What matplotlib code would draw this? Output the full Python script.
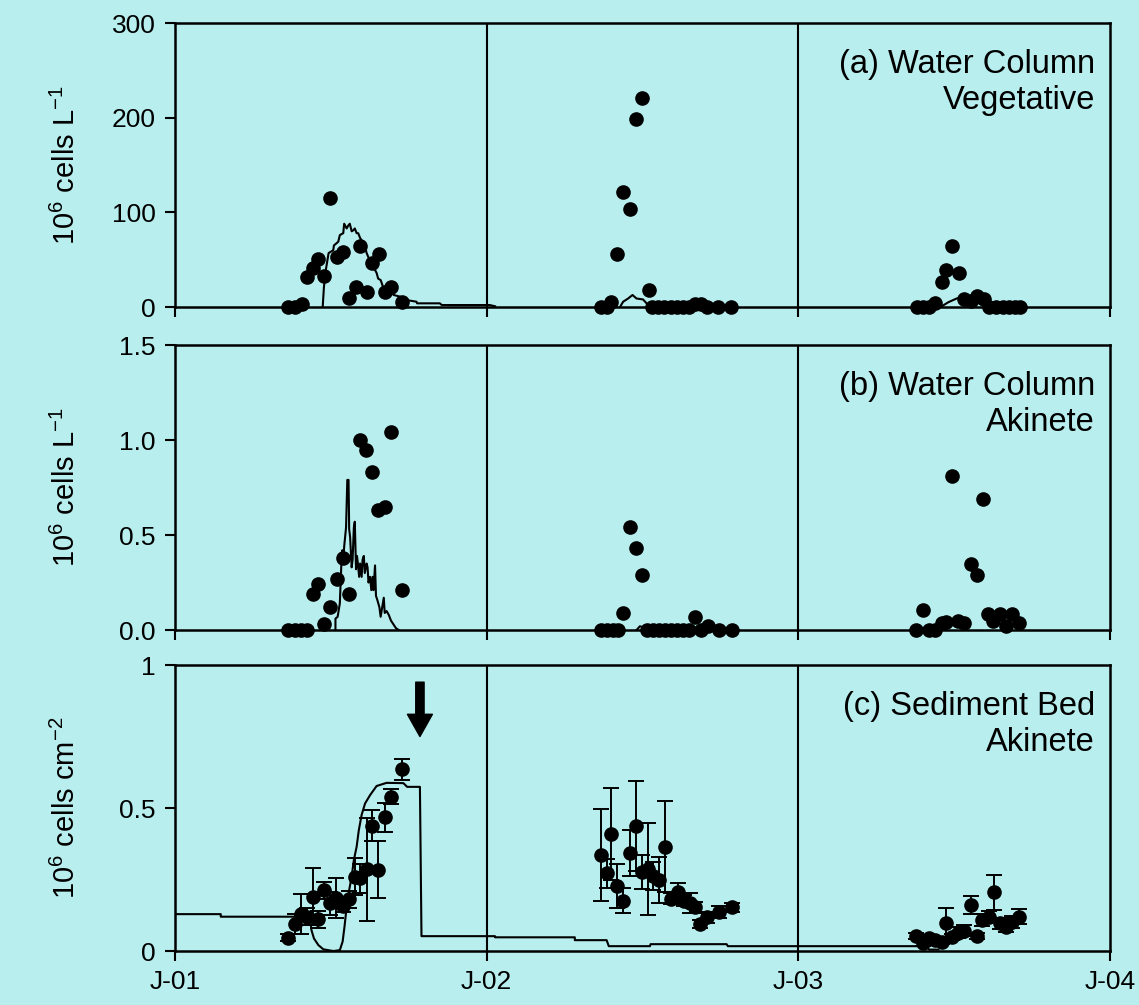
import numpy as np
import matplotlib
matplotlib.use("Agg")
import matplotlib.pyplot as plt

plt.rcParams["font.family"] = ["Liberation Sans", "DejaVu Sans"]
plt.rcParams["mathtext.fontset"] = "custom"
plt.rcParams["mathtext.rm"] = "Liberation Sans"
plt.rcParams["mathtext.it"] = "Liberation Sans:italic"

bg = "#b8eeee"

# x axis in years since Jan 2001 (0 = J-01, 3 = J-04)
xtick_pos = [0, 1, 2, 3]
xtick_lab = ["J-01", "J-02", "J-03", "J-04"]

#### (a) water column vegetative, 10^6 cells/L ####
a_obs_t = [0.363, 0.385, 0.407, 0.423, 0.443, 0.459, 0.478, 0.497, 0.520, 0.539,
           0.558, 0.581, 0.594, 0.616, 0.632, 0.654, 0.674, 0.693, 0.728,
           1.367, 1.386, 1.399, 1.418, 1.437, 1.460, 1.479, 1.498, 1.521,
           1.530, 1.550, 1.570, 1.590, 1.610, 1.630, 1.649, 1.668, 1.688, 1.707, 1.743, 1.785,
           2.380, 2.400, 2.420, 2.440, 2.460, 2.475, 2.493, 2.516, 2.531, 2.554,
           2.573, 2.595, 2.612, 2.634, 2.656, 2.676, 2.696, 2.712]
a_obs_v = [0, 0, 3, 32, 41, 51, 33, 115, 53, 58,
           10, 21, 64, 16, 47, 56, 16, 21, 5,
           0, 0, 5, 56, 121, 104, 199, 221, 18,
           0, 0, 0, 0, 0, 0, 0, 3, 3, 0, 0, 0,
           0, 0, 0, 4, 26, 39, 64, 36, 8, 6,
           12, 8, 0, 0, 0, 0, 0, 0]
a_mod_t = [0.0, 0.474, 0.478, 0.484, 0.493, 0.508, 0.510, 0.524, 0.529, 0.540, 0.543,
           0.551, 0.556, 0.561, 0.567, 0.572, 0.577, 0.583, 0.588, 0.594, 0.602,
           0.610, 0.615, 0.624, 0.631, 0.639, 0.647, 0.652, 0.660, 0.668, 0.684,
           0.702, 0.722, 0.743, 0.775, 0.777, 0.850, 0.856, 1.010, 1.027,
           1.428, 1.438, 1.454, 1.468, 1.481, 1.502, 1.513, 1.518,
           2.460, 2.481, 2.508, 2.529, 2.556, 2.578, 2.599]
a_mod_v = [np.nan, 0, 21, 39, 57, 60, 65, 69, 76, 78, 88,
           83, 86, 88, 80, 81, 83, 78, 78, 73, 69,
           64, 57, 50, 48, 41, 36, 30, 28.5, 21, 18,
           12.7, 11, 7.4, 5.6, 3.9, 3.9, 2.1, 2.1, 0.8,
           0, 5.6, 9, 12.7, 9, 8, 4, 0,
           0.7, 5, 9, 11, 9, 4, 0.7]
a_breaks = [39, 47]  # segments end after these indices

#### (b) water column akinete, 10^6 cells/L ####
b_obs_t = [0.363, 0.385, 0.404, 0.423, 0.443, 0.459, 0.478, 0.497, 0.520, 0.539,
           0.558, 0.594, 0.613, 0.632, 0.651, 0.674, 0.693, 0.728,
           1.366, 1.385, 1.404, 1.422, 1.438, 1.460, 1.479, 1.499,
           1.513, 1.533, 1.552, 1.572, 1.591, 1.610, 1.630, 1.649, 1.668, 1.688, 1.709, 1.745, 1.787,
           2.379, 2.399, 2.418, 2.439, 2.460, 2.474, 2.494, 2.514, 2.532, 2.554,
           2.574, 2.594, 2.609, 2.625, 2.647, 2.668, 2.687, 2.708]
b_obs_v = [0, 0, 0, 0, 0.19, 0.24, 0.03, 0.12, 0.27, 0.38,
           0.19, 1.00, 0.95, 0.83, 0.63, 0.65, 1.04, 0.21,
           0, 0, 0, 0, 0.09, 0.54, 0.43, 0.29,
           0, 0, 0, 0, 0, 0, 0, 0, 0.07, 0, 0.02, 0, 0,
           0.0, 0.105, 0, 0, 0.035, 0.04, 0.81, 0.05, 0.035, 0.35,
           0.29, 0.69, 0.084, 0.05, 0.084, 0.02, 0.084, 0.035]
b_mod_t = [0.515, 0.515, 0.522, 0.529, 0.534, 0.537, 0.540, 0.543, 0.549, 0.553, 0.557,
           0.559, 0.562, 0.567, 0.570, 0.574, 0.577, 0.581, 0.584, 0.587, 0.591,
           0.594, 0.599, 0.602, 0.606, 0.609, 0.615, 0.618, 0.621, 0.626, 0.630,
           0.634, 0.637, 0.642, 0.645, 0.649, 0.656, 0.660, 0.664, 0.670, 0.673,
           0.679, 0.686, 0.693, 0.701, 0.709, 0.718,
           1.481, 1.492, 1.508, 1.663, 1.673]
b_mod_v = [0, 0.06, 0.07, 0.14, 0.35, 0.42, 0.35, 0.44, 0.54, 0.79, 0.79,
           0.53, 0.49, 0.33, 0.37, 0.54, 0.57, 0.32, 0.39, 0.35, 0.28,
           0.35, 0.28, 0.37, 0.39, 0.30, 0.35, 0.33, 0.25, 0.28, 0.21,
           0.28, 0.21, 0.34, 0.18, 0.16, 0.12, 0.07, 0.11, 0.17, 0.09,
           0.10, 0.08, 0.05, 0.03, 0.01, 0.0,
           0, 0.02, 0.01, 0.01, 0]
b_breaks = [46]

#### (c) sediment bed akinete, 10^6 cells/cm2 ####
c_obs_t = [0.364, 0.385, 0.406, 0.424, 0.444, 0.460, 0.478, 0.498, 0.518, 0.539,
           0.559, 0.579, 0.594, 0.615, 0.633, 0.653, 0.675, 0.694, 0.728,
           1.366, 1.385, 1.400, 1.419, 1.438, 1.460, 1.479, 1.499, 1.519, 1.535,
           1.554, 1.573, 1.593, 1.615, 1.633, 1.652, 1.668, 1.686, 1.708, 1.747, 1.788,
           2.379, 2.399, 2.418, 2.439, 2.460, 2.474, 2.494, 2.514, 2.532, 2.554,
           2.574, 2.591, 2.611, 2.627, 2.647, 2.668, 2.687, 2.708]
c_obs_v = [0.047, 0.094, 0.129, 0.12, 0.19, 0.111, 0.213, 0.167, 0.184, 0.158,
           0.181, 0.26, 0.254, 0.286, 0.438, 0.285, 0.467, 0.540, 0.635,
           0.336, 0.272, 0.409, 0.227, 0.176, 0.344, 0.438, 0.277, 0.286, 0.262,
           0.248, 0.365, 0.183, 0.207, 0.176, 0.167, 0.153, 0.094, 0.118, 0.137, 0.153,
           0.052, 0.028, 0.045, 0.038, 0.033, 0.097, 0.05, 0.064, 0.071, 0.161,
           0.052, 0.108, 0.12, 0.205, 0.097, 0.085, 0.102, 0.12]
c_obs_err = [0.012, 0.035, 0.07, 0.03, 0.1, 0.03, 0.03, 0.04, 0.07, 0.02,
             0.03, 0.065, 0.05, 0.18, 0.054, 0.1, 0.05, 0.026, 0.036,
             0.16, 0.05, 0.16, 0.077, 0.044, 0.08, 0.157, 0.059, 0.16, 0.05,
             0.08, 0.16, 0.02, 0.03, 0.02, 0.035, 0.02, 0.015, 0.02, 0.02, 0.015,
             0.01, 0.01, 0.01, 0.01, 0.01, 0.055, 0.01, 0.02, 0.02, 0.03,
             0.01, 0.02, 0.02, 0.06, 0.02, 0.02, 0.02, 0.026]
c_mod_t = [0.0, 0.147, 0.147, 0.433, 0.438, 0.446, 0.460, 0.476, 0.508, 0.529,
           0.538, 0.544, 0.551, 0.559, 0.567, 0.574, 0.583, 0.590, 0.599, 0.610,
           0.626, 0.647, 0.679, 0.733, 0.745, 0.786, 0.791, 1.027, 1.027, 1.283,
           1.283, 1.385, 1.392, 1.524, 1.526, 1.770, 1.774, 2.410, 2.420, 2.450]
c_mod_v = [0.129, 0.129, 0.12, 0.12, 0.073, 0.044, 0.021, 0.006, 0.0, 0.003,
           0.033, 0.085, 0.155, 0.213, 0.26, 0.318, 0.365, 0.423, 0.476, 0.516,
           0.545, 0.577, 0.588, 0.587, 0.574, 0.574, 0.052, 0.052, 0.048, 0.048,
           0.038, 0.038, 0.017, 0.017, 0.024, 0.024, 0.017, 0.017, 0.005, 0.005]

fig = plt.figure(figsize=(11.39, 10.05), dpi=100, facecolor=bg)
ax_a = fig.add_axes([0.1536, 0.6945, 0.8209, 0.2826])
ax_b = fig.add_axes([0.1536, 0.3731, 0.8209, 0.2836])
ax_c = fig.add_axes([0.1536, 0.0537, 0.8209, 0.2846])

def split(t, v, breaks):
    out, start = [], 0
    for b in breaks + [len(t) - 1]:
        out.append((t[start:b + 1], v[start:b + 1]))
        start = b + 1
    return out

def style(ax, ylim, yticks, yticklabels, ylabel, title, show_x):
    ax.set_facecolor(bg)
    ax.set_xlim(0, 3)
    ax.set_ylim(*ylim)
    for s in ax.spines.values():
        s.set_linewidth(1.8)
    for x in [1, 2]:
        ax.axvline(x, color="black", lw=1.5, zorder=1)
    ax.set_xticks(xtick_pos)
    ax.set_xticklabels(xtick_lab if show_x else [])
    ax.set_yticks(yticks)
    ax.set_yticklabels(yticklabels)
    ax.tick_params(direction="out", length=7, width=1.5, labelsize=19, pad=7)
    ax.set_ylabel(ylabel, fontsize=21)
    ax.yaxis.set_label_coords(-0.10, 0.5)
    ax.text(0.984, 0.91, title, transform=ax.transAxes, ha="right", va="top",
            fontsize=23.5, linespacing=1.22)

ms = 9.5

# panel a
for t, v in split(a_mod_t, a_mod_v, a_breaks):
    ax_a.plot(t, v, color="black", lw=1.5, zorder=2)
ax_a.plot(a_obs_t, a_obs_v, "o", color="black", ms=ms, zorder=3, clip_on=False)
style(ax_a, (0, 300), [0, 100, 200, 300], ["0", "100", "200", "300"],
      r"10$^{6}$ cells L$^{-1}$", "(a) Water Column\nVegetative", False)

# panel b
for t, v in split(b_mod_t, b_mod_v, b_breaks):
    ax_b.plot(t, v, color="black", lw=1.5, zorder=2)
ax_b.plot(b_obs_t, b_obs_v, "o", color="black", ms=ms, zorder=3, clip_on=False)
style(ax_b, (0, 1.5), [0, 0.5, 1.0, 1.5], ["0.0", "0.5", "1.0", "1.5"],
      r"10$^{6}$ cells L$^{-1}$", "(b) Water Column\nAkinete", False)

# panel c
ax_c.plot(c_mod_t, c_mod_v, color="black", lw=1.5, zorder=2)
ax_c.errorbar(c_obs_t, c_obs_v, yerr=c_obs_err, fmt="o", color="black", ms=ms,
              elinewidth=1.4, capsize=5.5, capthick=1.4, zorder=3)
style(ax_c, (0, 1), [0, 0.5, 1], ["0", "0.5", "1"],
      r"10$^{6}$ cells cm$^{-2}$", "(c) Sediment Bed\nAkinete", True)
ax_c.annotate("", xy=(0.786, 0.75), xytext=(0.786, 0.94),
              arrowprops=dict(arrowstyle="simple,head_length=1.6,head_width=1.8,tail_width=0.6",
                              mutation_scale=10, color="black", shrinkA=0, shrinkB=0))

fig.savefig("out.png", dpi=100, facecolor=bg)
